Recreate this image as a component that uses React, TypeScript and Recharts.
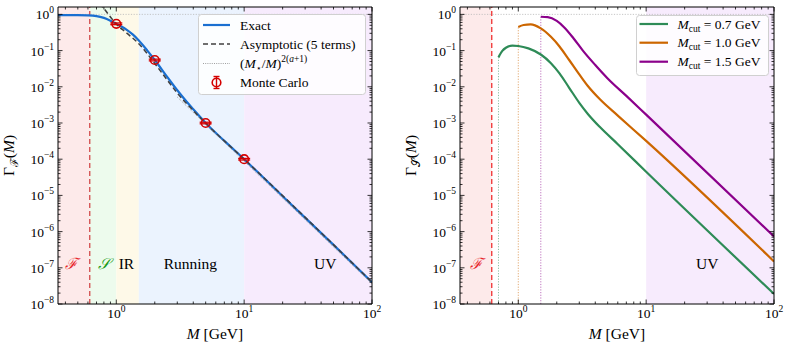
import React from "react";
import {
  ComposedChart,
  Line,
  Scatter,
  ErrorBar,
  XAxis,
  YAxis,
  ReferenceArea,
  ReferenceLine,
  ReferenceDot,
  Legend,
} from "recharts";

// Two log-log panels: Γ_F(M) with asymptotics, and Γ_S(M) for three cuts.

const SERIF = "'Liberation Serif', 'DejaVu Serif', serif";

// ---- left panel: Γ_F(M) ----
const exactMass = [0.35, 0.5, 0.6, 0.7, 0.8, 0.9, 1.0, 1.2, 1.35, 1.5, 1.75, 2, 2.5, 3, 3.5, 4, 5, 7, 10, 20, 50, 100];
const exactGamma = [0.95, 0.95, 0.94, 0.9, 0.8, 0.67, 0.55, 0.38, 0.275, 0.19, 0.1, 0.055, 0.0188, 0.008, 0.0041, 0.0024, 0.001, 0.00032, 1e-4, 9.5e-6, 4.3e-7, 4e-8];

const asymMass = [0.74, 0.8, 0.9, 1.0, 1.2, 1.5, 2, 2.5, 3, 4, 5, 10, 100];
const asymGamma = [2.0, 1.45, 0.85, 0.54, 0.31, 0.155, 0.044, 0.0155, 0.0067, 0.0022, 0.00098, 1e-4, 4e-8];

const powerMass = [3, 100];
const powerGamma = [0.0052, 3.6e-8];

const mcMass = [1, 2, 5, 10];
const mcGamma = [0.55, 0.055, 0.001, 1e-4];
const mcError = [0.03, 0.003, 5e-5, 5e-6];

// ---- right panel: Γ_S(M) ----
const cut07Mass = [0.7, 0.75, 0.8, 0.9, 1.0, 1.2, 1.5, 1.8, 2.1, 2.5, 3, 3.5, 4.35, 6, 10, 100];
const cut07Gamma = [0.065, 0.098, 0.12, 0.137, 0.134, 0.115, 0.078, 0.045, 0.0236, 0.0094, 0.0036, 0.00178, 0.00077, 0.00026, 4.5e-5, 1.9e-8];

const cut10Mass = [1.0, 1.1, 1.25, 1.5, 1.8, 2.1, 2.5, 3, 3.5, 4.35, 6, 10, 100];
const cut10Gamma = [0.45, 0.51, 0.53, 0.41, 0.24, 0.13, 0.055, 0.022, 0.0105, 0.0045, 0.0016, 3.2e-4, 1.5e-7];

const cut15Mass = [1.5, 1.7, 2, 2.3, 2.7, 3.2, 4, 5, 7, 10, 100];
const cut15Gamma = [0.86, 0.84, 0.66, 0.43, 0.22, 0.1, 0.04, 0.017, 0.0056, 0.0017, 7.3e-7];

const cutLabels = ["0.7", "1.0", "1.5"];
const cutColors = ["#2e8b57", "#cc6600", "#8b008b"];

// ---- axes ----
const X_DOMAIN: [number, number] = [0.35, 100];
const Y_DOMAIN: [number, number] = [1e-8, 1.6];
const majorX = [1, 10, 100];
const majorY = [1e-8, 1e-7, 1e-6, 1e-5, 1e-4, 1e-3, 1e-2, 1e-1, 1];
const minorSteps = [2, 3, 4, 5, 6, 7, 8, 9];

const inside = (v: number, d: [number, number]) => v >= d[0] && v <= d[1];
const xTicks = [0.1, 1, 10]
  .flatMap((d) => minorSteps.map((k) => +(k * d).toPrecision(3)))
  .concat(majorX)
  .filter((v) => inside(v, X_DOMAIN));
const yTicks = majorY
  .flatMap((d) => minorSteps.map((k) => +(k * d).toPrecision(3)))
  .concat(majorY)
  .filter((v) => inside(v, Y_DOMAIN));

const zip = (xs: number[], ys: number[]) => xs.map((x, i) => ({ x, y: ys[i] }));
const mcData = mcMass.map((x, i) => ({ x, y: mcGamma[i], err: mcError[i] }));

const isMajor = (v: number) => Math.abs(Math.log10(v) - Math.round(Math.log10(v))) < 1e-6;
const expText = (v: number) => {
  const e = Math.round(Math.log10(v));
  return e < 0 ? `\u2212${-e}` : `${e}`;
};

function PowLabel({ x, y, v, anchor }: { x: number; y: number; v: number; anchor: string }) {
  return (
    <text x={x} y={y} textAnchor={anchor} fontFamily={SERIF} fontSize={13.5} fill="#000">
      10
      <tspan dy={-6} fontSize={9.5}>
        {expText(v)}
      </tspan>
    </text>
  );
}

const MAJ = 4.5;
const MIN = 2.5;

function BottomTick({ x, y, payload }: any) {
  const major = isMajor(payload.value);
  return (
    <g>
      <line x1={x} x2={x} y1={y} y2={y - (major ? MAJ : MIN)} stroke="#000" strokeWidth={0.8} />
      {major && <PowLabel x={x} y={y + 14} v={payload.value} anchor="middle" />}
    </g>
  );
}
function TopTick({ x, y, payload }: any) {
  const major = isMajor(payload.value);
  return <line x1={x} x2={x} y1={y} y2={y + (major ? MAJ : MIN)} stroke="#000" strokeWidth={0.8} />;
}
function LeftTick({ x, y, payload }: any) {
  const major = isMajor(payload.value);
  return (
    <g>
      <line x1={x} x2={x + (major ? MAJ : MIN)} y1={y} y2={y} stroke="#000" strokeWidth={0.8} />
      {major && <PowLabel x={x - 4} y={y + 5} v={payload.value} anchor="end" />}
    </g>
  );
}
function RightTick({ x, y, payload }: any) {
  const major = isMajor(payload.value);
  return <line x1={x} x2={x - (major ? MAJ : MIN)} y1={y} y2={y} stroke="#000" strokeWidth={0.8} />;
}

function axes(sub: string) {
  return [
    <XAxis
      key="xb"
      xAxisId="b"
      dataKey="x"
      type="number"
      scale="log"
      domain={X_DOMAIN}
      allowDataOverflow
      ticks={xTicks}
      interval={0}
      tick={<BottomTick />}
      tickLine={false}
      tickSize={0}
      tickMargin={0}
      height={1}
      axisLine={{ stroke: "#000", strokeWidth: 1 }}
      label={{
        content: ({ viewBox }: any) => (
          <text x={viewBox.x + viewBox.width / 2} y={viewBox.y + 35} textAnchor="middle" fontFamily={SERIF} fontSize={15.5}>
            <tspan fontStyle="italic">M</tspan> [GeV]
          </text>
        ),
      }}
    />,
    <XAxis
      key="xt"
      xAxisId="t"
      orientation="top"
      dataKey="x"
      type="number"
      scale="log"
      domain={X_DOMAIN}
      allowDataOverflow
      ticks={xTicks}
      interval={0}
      tick={<TopTick />}
      tickLine={false}
      tickSize={0}
      tickMargin={0}
      height={1}
      axisLine={{ stroke: "#000", strokeWidth: 1 }}
    />,
    <YAxis
      key="yl"
      yAxisId="l"
      type="number"
      scale="log"
      domain={Y_DOMAIN}
      allowDataOverflow
      ticks={yTicks}
      interval={0}
      tick={<LeftTick />}
      tickLine={false}
      tickSize={0}
      tickMargin={0}
      width={1}
      axisLine={{ stroke: "#000", strokeWidth: 1 }}
      label={{
        content: ({ viewBox }: any) => {
          const cx = viewBox.x + viewBox.width - 44;
          const cy = viewBox.y + viewBox.height / 2;
          return (
            <text x={cx} y={cy} transform={`rotate(-90 ${cx} ${cy})`} textAnchor="middle" fontFamily={SERIF} fontSize={15.5}>
              Γ
              <tspan dy={4} fontSize={11}>
                {sub}
              </tspan>
              <tspan dy={-4}>(</tspan>
              <tspan fontStyle="italic">M</tspan>)
            </text>
          );
        },
      }}
    />,
    <YAxis
      key="yr"
      yAxisId="r"
      orientation="right"
      type="number"
      scale="log"
      domain={Y_DOMAIN}
      allowDataOverflow
      ticks={yTicks}
      interval={0}
      tick={<RightTick />}
      tickLine={false}
      tickSize={0}
      tickMargin={0}
      width={1}
      axisLine={{ stroke: "#000", strokeWidth: 1 }}
    />,
  ];
}

const ax = { xAxisId: "b", yAxisId: "l" } as const;

function Tag(color: string, text: React.ReactNode, italic = false) {
  return (p: any) => (
    <text x={p.cx} y={p.cy} textAnchor="middle" dominantBaseline="central" fontFamily={SERIF} fontSize={15.5} fill={color} fontStyle={italic ? "italic" : "normal"}>
      {text}
    </text>
  );
}

function McMarker(p: any) {
  return <circle cx={p.cx} cy={p.cy} r={4.3} fill="none" stroke="#d40000" strokeWidth={1.6} />;
}

function LeftLegend() {
  const rows = [11, 30, 49.5, 68.5];
  const tx = 42;
  return (
    <svg width={168} height={81} style={{ display: "block", overflow: "visible" }}>
      <rect x={0.5} y={0.5} width={167} height={80} rx={3} fill="#fff" fillOpacity={0.85} stroke="#d0d0d0" />
      <line x1={5} x2={32} y1={rows[0]} y2={rows[0]} stroke="#1a6fd1" strokeWidth={2.2} />
      <line x1={5} x2={32} y1={rows[1]} y2={rows[1]} stroke="#404040" strokeWidth={1.5} strokeDasharray="5 3" />
      <line x1={5} x2={32} y1={rows[2]} y2={rows[2]} stroke="#888" strokeWidth={0.8} strokeDasharray="1 1.2" />
      <line x1={18.5} x2={18.5} y1={rows[3] - 6} y2={rows[3] + 6} stroke="#d40000" strokeWidth={1.4} />
      <line x1={15.5} x2={21.5} y1={rows[3] - 6} y2={rows[3] - 6} stroke="#d40000" strokeWidth={1.4} />
      <line x1={15.5} x2={21.5} y1={rows[3] + 6} y2={rows[3] + 6} stroke="#d40000" strokeWidth={1.4} />
      <circle cx={18.5} cy={rows[3]} r={4.3} fill="none" stroke="#d40000" strokeWidth={1.6} />
      <g fontFamily={SERIF} fontSize={13.5} fill="#000">
        <text x={tx} y={rows[0] + 4.5}>Exact</text>
        <text x={tx} y={rows[1] + 4.5}>Asymptotic (5 terms)</text>
        <text x={tx} y={rows[2] + 4.5}>
          (<tspan fontStyle="italic">M</tspan>
          <tspan dy={3} fontSize={9}>⋆</tspan>
          <tspan dy={-3}>/</tspan>
          <tspan fontStyle="italic">M</tspan>)
          <tspan dy={-6} fontSize={9.5}>2(</tspan>
          <tspan fontSize={9.5} fontStyle="italic">a</tspan>
          <tspan fontSize={9.5}>+1)</tspan>
        </text>
        <text x={tx} y={rows[3] + 4.5}>Monte Carlo</text>
      </g>
    </svg>
  );
}

function RightLegend() {
  const rows = [9, 27.7, 46.7];
  return (
    <svg width={133} height={61} style={{ display: "block", overflow: "visible" }}>
      <rect x={0.5} y={0.5} width={132} height={60} rx={3} fill="#fff" fillOpacity={0.85} stroke="#d0d0d0" />
      {rows.map((ry, i) => (
        <g key={i}>
          <line x1={3.5} x2={32} y1={ry} y2={ry} stroke={cutColors[i]} strokeWidth={2.2} />
          <text x={41.5} y={ry + 4.5} fontFamily={SERIF} fontSize={13.5} fill="#000">
            <tspan fontStyle="italic">M</tspan>
            <tspan dy={3} fontSize={9.5}>cut</tspan>
            <tspan dy={-3}> = {cutLabels[i]} GeV</tspan>
          </text>
        </g>
      ))}
    </svg>
  );
}

const noLegendOffset = { layout: "vertical", align: "center", verticalAlign: "middle" } as const;

function LeftPanel() {
  return (
    <ComposedChart width={400} height={349} margin={{ top: 6, right: 27, bottom: 44, left: 57 }}>
      {axes("ℱ")}
      <ReferenceArea {...ax} x1={0.35} x2={0.62} y1={1e-8} y2={1.6} fill="#fdeaea" fillOpacity={1} stroke="none" />
      <ReferenceArea {...ax} x1={0.62} x2={1.0} y1={1e-8} y2={1.6} fill="#edfbed" fillOpacity={1} stroke="none" />
      <ReferenceArea {...ax} x1={1.0} x2={1.5} y1={1e-8} y2={1.6} fill="#fef9e8" fillOpacity={1} stroke="none" />
      <ReferenceArea {...ax} x1={1.5} x2={10} y1={1e-8} y2={1.6} fill="#ebf3fe" fillOpacity={1} stroke="none" />
      <ReferenceArea {...ax} x1={10} x2={100} y1={1e-8} y2={1.6} fill="#f7ebfd" fillOpacity={1} stroke="none" />
      <ReferenceLine {...ax} x={0.62} stroke="#d24b4b" strokeWidth={1.3} strokeDasharray="5 3" />
      <ReferenceLine {...ax} y={1} stroke="#b8b8b8" strokeWidth={0.8} strokeDasharray="1.2 1.5" />
      <ReferenceDot {...ax} x={0.445} y={1.3e-7} r={0} shape={Tag("#e8262a", "ℱ", true)} />
      <ReferenceDot {...ax} x={0.795} y={1.3e-7} r={0} shape={Tag("#1a9c1a", "𝒮", true)} />
      <ReferenceDot {...ax} x={1.2} y={1.3e-7} r={0} shape={Tag("#000", "IR")} />
      <ReferenceDot {...ax} x={3.8} y={1.3e-7} r={0} shape={Tag("#000", "Running")} />
      <ReferenceDot {...ax} x={43} y={1.3e-7} r={0} shape={Tag("#000", "UV")} />
      <Line {...ax} data={zip(exactMass, exactGamma)} dataKey="y" type="monotone" stroke="#1a6fd1" strokeWidth={2.2} dot={false} isAnimationActive={false} />
      <Line {...ax} data={zip(asymMass, asymGamma)} dataKey="y" type="monotone" stroke="#404040" strokeWidth={1.5} strokeDasharray="5 3" dot={false} isAnimationActive={false} />
      <Line {...ax} data={zip(powerMass, powerGamma)} dataKey="y" type="linear" stroke="#888" strokeWidth={0.8} strokeDasharray="1 1.2" dot={false} isAnimationActive={false} />
      <Scatter {...ax} data={mcData} dataKey="y" shape={McMarker} isAnimationActive={false}>
        <ErrorBar dataKey="err" direction="y" width={6} stroke="#d40000" strokeWidth={1.3} isAnimationActive={false} />
      </Scatter>
      <Legend {...noLegendOffset} content={<LeftLegend />} wrapperStyle={{ left: 198, top: 14, width: 168, height: 81 }} />
    </ComposedChart>
  );
}

function RightPanel() {
  const series = [
    zip(cut07Mass, cut07Gamma),
    zip(cut10Mass, cut10Gamma),
    zip(cut15Mass, cut15Gamma),
  ];
  return (
    <ComposedChart width={392} height={349} margin={{ top: 6, right: 17, bottom: 44, left: 59 }}>
      {axes("𝒮")}
      <ReferenceArea {...ax} x1={0.35} x2={0.62} y1={1e-8} y2={1.6} fill="#fdeaea" fillOpacity={1} stroke="none" />
      <ReferenceArea {...ax} x1={10} x2={100} y1={1e-8} y2={1.6} fill="#f7ebfd" fillOpacity={1} stroke="none" />
      <ReferenceLine {...ax} x={0.62} stroke="#f03030" strokeWidth={1.3} strokeDasharray="5 3" />
      <ReferenceLine {...ax} y={1} stroke="#b8b8b8" strokeWidth={0.8} strokeDasharray="1.2 1.5" />
      {series.map((s, i) => (
        <ReferenceLine
          key={`v${i}`}
          {...ax}
          segment={[
            { x: s[0].x, y: 1e-8 },
            { x: s[0].x, y: s[0].y },
          ]}
          stroke={cutColors[i]}
          strokeOpacity={0.55}
          strokeWidth={1}
          strokeDasharray="1.2 1.5"
        />
      ))}
      <ReferenceDot {...ax} x={0.47} y={1.3e-7} r={0} shape={Tag("#e8262a", "ℱ", true)} />
      <ReferenceDot {...ax} x={30} y={1.3e-7} r={0} shape={Tag("#000", "UV")} />
      {series.map((s, i) => (
        <Line key={`c${i}`} {...ax} data={s} dataKey="y" type="monotone" stroke={cutColors[i]} strokeWidth={2.2} dot={false} isAnimationActive={false} />
      ))}
      <Legend {...noLegendOffset} content={<RightLegend />} wrapperStyle={{ left: 235.7, top: 15, width: 133, height: 61 }} />
    </ComposedChart>
  );
}

export default function App() {
  return (
    <div style={{ position: "absolute", left: 0, top: 0, width: 792, height: 349, background: "#fff" }}>
      <div style={{ position: "absolute", left: 0, top: 0 }}>
        <LeftPanel />
      </div>
      <div style={{ position: "absolute", left: 400, top: 0 }}>
        <RightPanel />
      </div>
    </div>
  );
}
